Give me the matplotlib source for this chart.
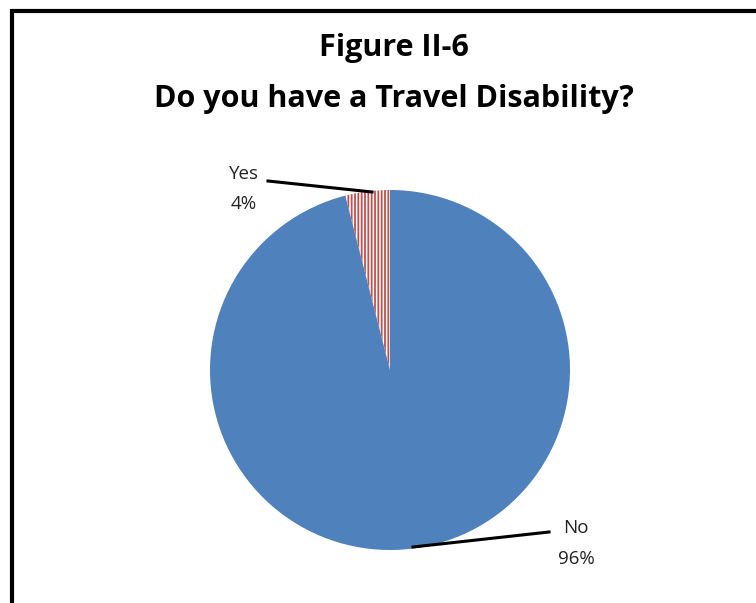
import matplotlib.pyplot as plt
from matplotlib.patches import Rectangle

labels = ['Yes', 'No']
values = [4, 96]
colors = ['white', '#4F81BD']
hatches = ['|||||', None]

W, H = 756, 603


def main():
    plt.rcParams['hatch.linewidth'] = 1.3
    fig = plt.figure(figsize=(W / 100, H / 100), dpi=100)
    ax = fig.add_axes([0, 0, 1, 1])

    wedges, _ = ax.pie(values, colors=colors, startangle=90, counterclock=True,
                       center=(390, H - 370), radius=180, frame=True,
                       wedgeprops=dict(linewidth=0))
    wedges[0].set_hatch(hatches[0])
    wedges[0].set_edgecolor('#C0504D')
    ax.set_xlim(0, W)
    ax.set_ylim(0, H)
    ax.set_aspect('auto')
    ax.axis('off')

    # leader lines + labels
    lab_font = dict(family='Open Sans', fontsize=13.5, color='#222222', ha='center', va='center')
    ax.plot([268, 372], [H - 181, H - 192], color='black', lw=2.2)
    ax.text(244, H - 174, labels[0], **lab_font)
    ax.text(244, H - 204, f'{values[0]}%', **lab_font)
    ax.plot([413, 549], [H - 547, H - 532], color='black', lw=2.2)
    ax.text(576, H - 528, labels[1], **lab_font)
    ax.text(576, H - 559, f'{values[1]}%', **lab_font)

    # title
    title_font = dict(fontsize=22, fontweight='bold', family='Open Sans',
                      ha='center', va='center', color='black')
    ax.text(394, H - 48, 'Figure II-6', **title_font)
    ax.text(394, H - 99, 'Do you have a Travel Disability?', **title_font)

    # chart border (runs off the right and bottom edge)
    fig.patches.append(Rectangle((12 / W, -0.05), 1.2, (H - 11) / H + 0.05,
                                 transform=fig.transFigure, fill=False,
                                 edgecolor='black', linewidth=3))

    fig.savefig('out.png', dpi=100)


if __name__ == "__main__":
    main()
